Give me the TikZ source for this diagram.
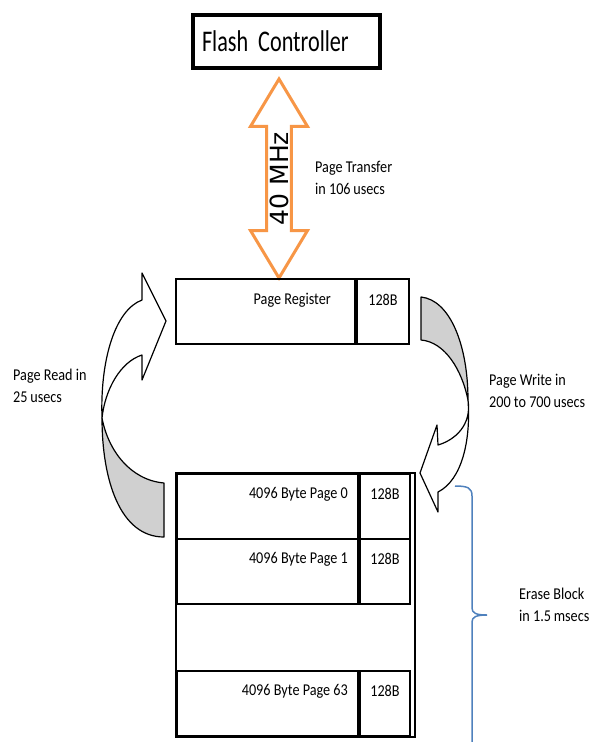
\documentclass[tikz,border=0pt]{standalone}
\usepackage{fontspec}
\setmainfont{Carlito}[FakeStretch=0.86]
\newfontfamily\ctrlfont{Carlito}[FakeStretch=0.74]
\newfontfamily\mhzfont{DejaVu Sans}
\usetikzlibrary{positioning,shapes.arrows}
\definecolor{busorange}{HTML}{F79646}
\definecolor{braceblue}{HTML}{4F81BD}
\definecolor{foldgray}{HTML}{D0D0D0}

\begin{document}
\begin{tikzpicture}[x=1pt,y=-1pt,
    txt/.style={font=\fontsize{16.5}{22}\selectfont,inner sep=0pt},
    cell/.style={draw,line width=2pt,inner sep=0pt,minimum height=65pt,minimum width=181pt,anchor=north west},
    tag/.style={draw,line width=2pt,inner sep=0pt,minimum height=65pt,minimum width=50pt,right=0pt of #1},
    fold/.style={draw,line width=1.2pt,fill=foldgray,line join=round},
    front/.style={draw,line width=1.2pt,fill=white,line join=round}]
  \useasboundingbox (0,0) rectangle (590,742);

  % controller and bus
  \node[draw,line width=3.5pt,minimum width=187pt,minimum height=53pt,text width=169pt,inner xsep=9pt,
        align=left,font=\ctrlfont\fontsize{30}{30}\selectfont] (fc) at (286.5,41.5) {Flash Controller};
  \node[double arrow,draw=busorange,line width=3pt,fill=white,rotate=90,minimum height=199pt,
        double arrow head extend=16pt,double arrow tip angle=62,inner xsep=4pt,inner ysep=1.5pt,
        font=\mhzfont\fontsize{25}{25}\selectfont] (bus) at (279,178.5) {40 MHz};
  \node[txt,align=left,anchor=west] (xfer) at (315,178) {Page Transfer\\in 106\,usecs};

  % page register
  \node[cell,minimum width=179pt] (preg) at (175,278) {};
  \node[tag=preg,minimum width=52pt] (preg-tag) {};
  \node[txt,anchor=east] (preg-txt) at ([xshift=-25pt,yshift=-22pt]preg.north east) {Page Register};
  \node[txt] (preg-b) at ([yshift=-22pt]preg-tag.north) {128B};

  % erase block pages
  \foreach \n/\y in {0/473,1/538,63/670}{
    \node[cell] (pg\n) at (176,\y) {};
    \node[tag=pg\n] (pg\n-tag) {};
    \node[txt,anchor=east] (pg\n-txt) at ([xshift=-11pt,yshift=-21pt]pg\n.north east) {4096 Byte Page \n};
    \node[txt] (pg\n-b) at ([yshift=-21pt]pg\n-tag.north) {128B};
  }
  \draw[line width=1.2pt] (pg0.north west) rectangle ([xshift=4pt]pg63-tag.south east);

  % page read
  \draw[fold] (164,483) -- (164,537) .. controls (120,537) and (102,480) .. (102,418)
    .. controls (108,450) and (130,480) .. (164,483) -- cycle;
  \draw[front] (102,418) .. controls (100,360) and (115,310) .. (142,300) -- (142,273) -- (166,321)
    -- (142,380) -- (142,355) .. controls (120,362) and (105,390) .. (102,418) -- cycle;
  \node[txt,align=left,anchor=west] (rd) at (13,386) {Page Read in\\25\,usecs};

  % page write
  \draw[fold] (421,297) .. controls (450,300) and (468,345) .. (468,400)
    .. controls (462,370) and (445,342) .. (421,340) -- cycle;
  \draw[front] (468,400) .. controls (472,425) and (455,440) .. (438,445) -- (437,425) -- (420,473)
    -- (438,512) -- (438,492) .. controls (462,480) and (471,440) .. (468,400) -- cycle;
  \node[txt,align=left,anchor=west] (wr) at (489,391) {Page Write in\\200 to 700\,usecs};

  % erase
  \draw[braceblue,line width=1.5pt] (455,486) .. controls (468,486) and (472,488) .. (472,496) -- (472,608)
    .. controls (472,613) and (476,615) .. (487,615) .. controls (476,615) and (472,617) .. (472,622) -- (472,742);
  \node[txt,align=left,anchor=west] (erase) at (519,605) {Erase Block\\in 1.5\,msecs};
\end{tikzpicture}
\end{document}
